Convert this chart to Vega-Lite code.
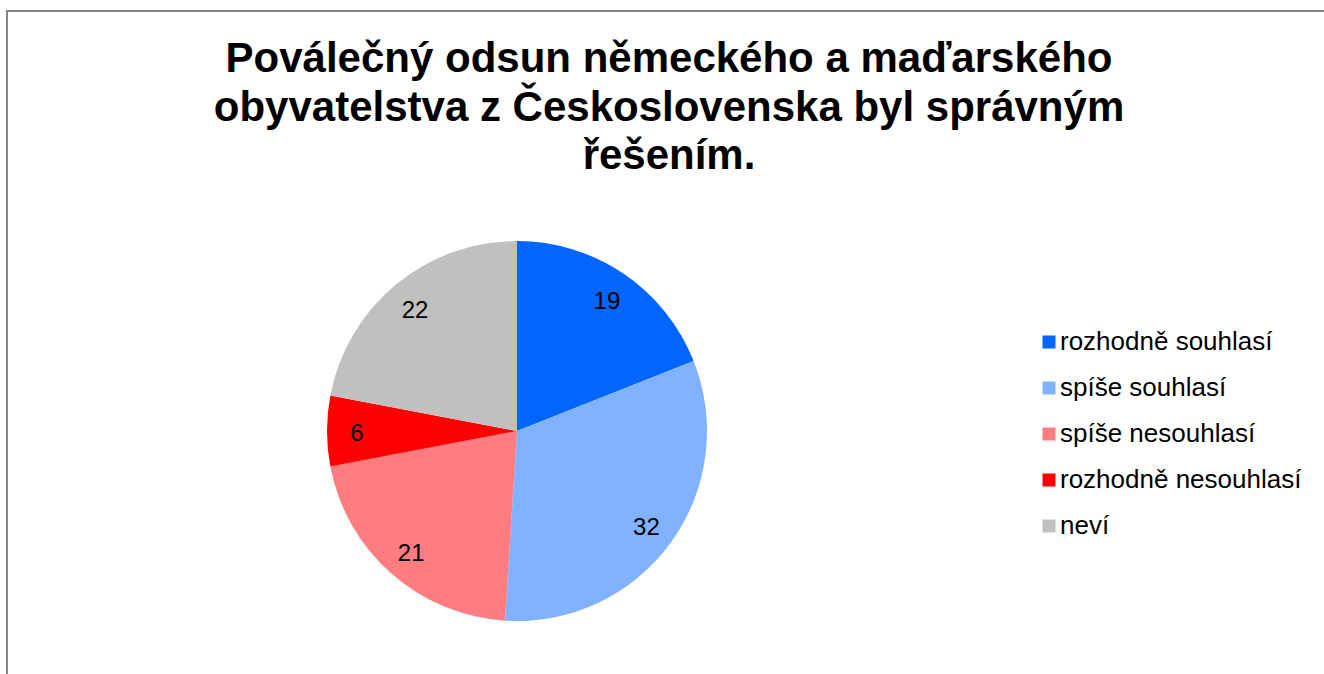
{
  "$schema": "https://vega.github.io/schema/vega-lite/v6.json",
  "width": 1324,
  "height": 700,
  "autosize": {"type": "none"},
  "padding": {"left": 7, "top": 11, "right": 0, "bottom": 0},
  "background": "white",
  "config": {
    "view": {"stroke": "#858585", "strokeWidth": 2},
    "font": "Liberation Sans"
  },
  "title": {
    "text": ["Poválečný odsun německého a maďarského", "obyvatelstva z Československa byl správným", "řešením."],
    "font": "Liberation Sans",
    "fontSize": 42,
    "fontWeight": "bold",
    "lineHeight": 48.5,
    "color": "black",
    "anchor": "middle",
    "offset": -167
  },
  "data": {
    "values": [
      {"i": 1, "odpoved": "rozhodně souhlasí", "hodnota": 19},
      {"i": 2, "odpoved": "spíše souhlasí", "hodnota": 32},
      {"i": 3, "odpoved": "spíše nesouhlasí", "hodnota": 21},
      {"i": 4, "odpoved": "rozhodně nesouhlasí", "hodnota": 6},
      {"i": 5, "odpoved": "neví", "hodnota": 22}
    ]
  },
  "encoding": {
    "theta": {"field": "hodnota", "type": "quantitative", "stack": true},
    "order": {"field": "i", "type": "quantitative"},
    "x": {"value": 510},
    "y": {"value": 420}
  },
  "layer": [
    {
      "mark": {"type": "arc", "radius": 190},
      "encoding": {
        "color": {
          "field": "odpoved",
          "type": "nominal",
          "sort": ["rozhodně souhlasí", "spíše souhlasí", "spíše nesouhlasí", "rozhodně nesouhlasí", "neví"],
          "scale": {
            "domain": ["rozhodně souhlasí", "spíše souhlasí", "spíše nesouhlasí", "rozhodně nesouhlasí", "neví"],
            "range": ["#0066FF", "#80B2FF", "#FF7C80", "#FF0000", "#C0C0C0"]
          },
          "legend": {
            "title": null,
            "orient": "none",
            "legendX": 1029,
            "legendY": 318,
            "padding": 0,
            "symbolType": "square",
            "symbolSize": 169,
            "symbolStrokeWidth": 0,
            "labelFont": "Liberation Sans",
            "labelFontSize": 26,
            "labelColor": "black",
            "labelOffset": -2,
            "labelLimit": 400,
            "rowPadding": 20
          }
        }
      }
    },
    {
      "mark": {"type": "text", "radius": 160, "dy": 3, "font": "Liberation Sans", "fontSize": 24, "color": "black"},
      "encoding": {
        "text": {"field": "hodnota", "type": "quantitative"}
      }
    }
  ]
}
